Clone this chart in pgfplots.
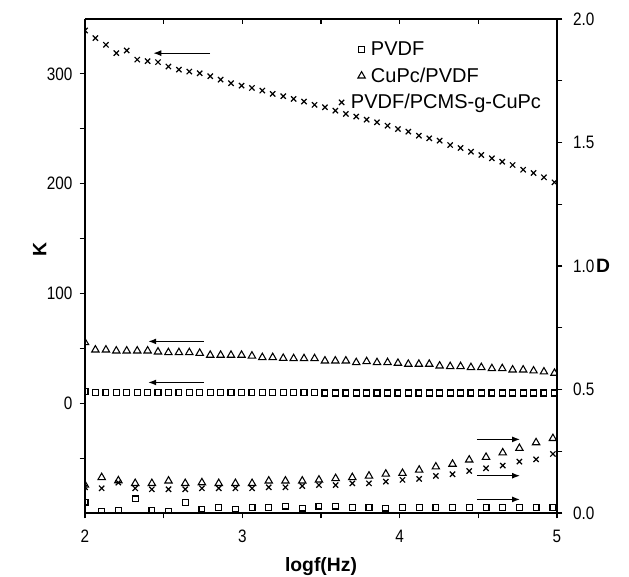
\documentclass[border=0pt]{standalone}
\usepackage{pgfplots}
\pgfplotsset{compat=1.18}
\usepackage{pgfplotstable}
\usepackage{fontspec}
\setmainfont{Liberation Sans}
\newfontfamily\narrowfont[FakeStretch=0.85]{Liberation Sans}
\usetikzlibrary{arrows.meta}

% K (left axis), 46 frequencies
\pgfplotstableread{
x     sq   tri  cr
2.000 10.5 55.3 339.5
2.066 9.5  48.6 332.6
2.133 9.5  48.6 326.5
2.199 9.5  47.7 318.9
2.265 9.5  47.7 321.3
2.332 9.5  47.7 313.0
2.398 9.5  47.7 311.6
2.464 9.5  46.8 310.7
2.530 9.5  46.2 306.7
2.597 9.5  46.2 303.9
2.663 9.5  46.2 302.1
2.729 9.5  45.6 300.6
2.796 9.5  43.8 297.9
2.862 9.5  43.8 294.8
2.928 9.5  43.8 291.5
2.995 9.5  43.8 289.3
3.061 9.5  43.1 287.2
3.127 9.5  41.7 284.8
3.193 9.5  41.7 281.8
3.260 9.5  41.0 279.7
3.326 9.5  40.7 277.2
3.392 9.5  40.7 274.8
3.459 9.5  40.7 271.8
3.525 9.3  38.6 269.6
3.591 9.3  38.6 266.5
3.658 9.3  38.6 263.5
3.724 9.3  37.1 261.1
3.790 9.3  38.0 258.3
3.856 9.3  37.1 255.9
3.923 9.3  37.1 252.8
3.989 9.3  36.5 249.8
4.055 9.3  35.6 247.4
4.122 9.3  35.6 243.7
4.188 9.3  35.6 241.3
4.254 9.3  34.0 239.2
4.321 9.3  33.5 235.2
4.387 9.3  33.5 232.5
4.453 9.3  32.6 229.1
4.519 9.3  32.6 226.1
4.586 9.3  31.6 223.1
4.652 9.3  31.6 220.0
4.718 9.3  30.4 217.0
4.785 9.3  30.4 212.7
4.851 9.3  29.5 209.7
4.917 9.3  28.6 205.8
4.984 9.3  27.4 201.2
}\Kdata

% D (right axis), 29 frequencies
\pgfplotstableread{
x     sq    tri   cr
2.000 0.044 0.113 0.104
2.106 0.005 0.144 0.100
2.212 0.009 0.131 0.123
2.319 0.057 0.120 0.100
2.425 0.009 0.120 0.096
2.531 0.005 0.130 0.096
2.637 0.043 0.120 0.096
2.743 0.016 0.123 0.100
2.850 0.023 0.120 0.100
2.956 0.016 0.120 0.100
3.062 0.023 0.120 0.100
3.168 0.023 0.130 0.104
3.274 0.028 0.130 0.104
3.381 0.020 0.130 0.109
3.487 0.028 0.134 0.113
3.593 0.028 0.140 0.113
3.699 0.023 0.144 0.120
3.805 0.023 0.150 0.120
3.912 0.020 0.158 0.127
4.018 0.023 0.161 0.134
4.124 0.023 0.174 0.138
4.230 0.023 0.187 0.150
4.336 0.023 0.198 0.157
4.442 0.023 0.215 0.170
4.549 0.023 0.226 0.181
4.655 0.023 0.244 0.192
4.761 0.023 0.262 0.208
4.867 0.023 0.285 0.217
4.974 0.023 0.302 0.239
}\Ddata

\tikzset{arr/.style={line width=0.9pt, -{Latex[length=6pt, width=4.5pt]}}}

\pgfplotsset{
  base/.style={
    width=354pt, height=370.5pt, scale only axis,
    xmin=2, xmax=5,
    major tick length=4pt, minor tick length=4pt,
    axis line style={line width=0.9pt},
    every tick/.style={line width=0.9pt, black},
    tick label style={font=\narrowfont\fontsize{13.5}{15}\selectfont},
    /pgf/number format/assume math mode=true,
    clip marker paths=true,
  },
  msq/.style={only marks, mark=square, mark size=2.2pt, mark options={line width=0.9pt, black}},
  mtri/.style={only marks, mark=triangle, mark size=3.2pt, mark options={line width=0.8pt, black}},
  mcr/.style={only marks, mark=x, mark size=2.8pt, mark options={line width=0.9pt, black}},
}

\begin{document}
\begin{tikzpicture}
  % left axis: K
  \begin{axis}[base, name=ax,
      axis x line*=bottom, axis y line*=left,
      tick align=outside,
      ymin=-100, ymax=350,
      xtick={2,3,4,5}, minor xtick={2.5,3.5,4.5},
      ytick={0,100,200,300}, minor ytick={-50,50,150,250},
      xticklabel style={yshift=-5pt},
      yticklabel style={xshift=-2pt},
      xlabel={logf(Hz)},
      ylabel={K},
      xlabel style={font=\bfseries\fontsize{14.5}{16}\selectfont, at={(rel axis cs:0.5,0)}, anchor=center, yshift=-40pt},
      ylabel style={font=\bfseries\fontsize{14.5}{16}\selectfont, at={(rel axis cs:0,0.5)}, anchor=center, yshift=34pt, xshift=12pt},
      legend style={draw=none, fill=none, at={(rel axis cs:0.529,0.965)}, anchor=north west,
        font=\fontsize{15}{17}\selectfont, row sep=3.5pt,
        /tikz/every odd column/.append style={column sep=2.25pt}},
      legend cell align=left,
    ]
    \addplot[msq] table[x=x, y=sq] {\Kdata};
    \addplot[mtri] table[x=x, y=tri] {\Kdata};
    \addplot[mcr, legend image post style={xshift=-15pt}] table[x=x, y=cr] {\Kdata};
    \legend{PVDF, CuPc/PVDF, \hspace*{-15pt}PVDF/PCMS-g-CuPc}
    \draw[arr] (axis cs:2.795,318.9) -- (axis cs:2.434,318.9);
    \draw[arr] (axis cs:2.756,56.3) -- (axis cs:2.402,56.3);
    \draw[arr] (axis cs:2.756,18.9) -- (axis cs:2.402,18.9);
  \end{axis}
  % right axis: D
  \begin{axis}[base,
      axis x line=none, axis y line*=right,
      tick align=outside,
      ymin=0, ymax=2,
      ytick={0,0.5,1,1.5,2}, minor ytick={0.25,0.75,1.25,1.75},
      yticklabel style={xshift=4.5pt, /pgf/number format/.cd, fixed, fixed zerofill, precision=1},
      ylabel={D},
      ylabel style={font=\bfseries\fontsize{14.5}{16}\selectfont, at={(rel axis cs:1,0.5)}, anchor=center, rotate=-90, xshift=34.5pt},
    ]
    \addplot[msq] table[x=x, y=sq] {\Ddata};
    \addplot[mtri] table[x=x, y=tri] {\Ddata};
    \addplot[mcr] table[x=x, y=cr] {\Ddata};
    \draw[arr] (axis cs:4.49,0.298) -- (axis cs:4.765,0.298);
    \draw[arr] (axis cs:4.49,0.151) -- (axis cs:4.765,0.151);
    \draw[arr] (axis cs:4.49,0.055) -- (axis cs:4.765,0.055);
  \end{axis}
  % top frame with inward ticks
  \begin{axis}[base,
      axis x line*=top, axis y line=none,
      tick align=inside,
      ymin=0, ymax=1,
      xtick={2,3,4,5}, minor xtick={2.5,3.5,4.5},
      xticklabels={},
    ]
  \end{axis}
  \pgfresetboundingbox
  \path ([shift={(-63.75pt,-48pt)}]ax.south west) rectangle ([shift={(54pt,14.25pt)}]ax.north east);
\end{tikzpicture}
\end{document}
